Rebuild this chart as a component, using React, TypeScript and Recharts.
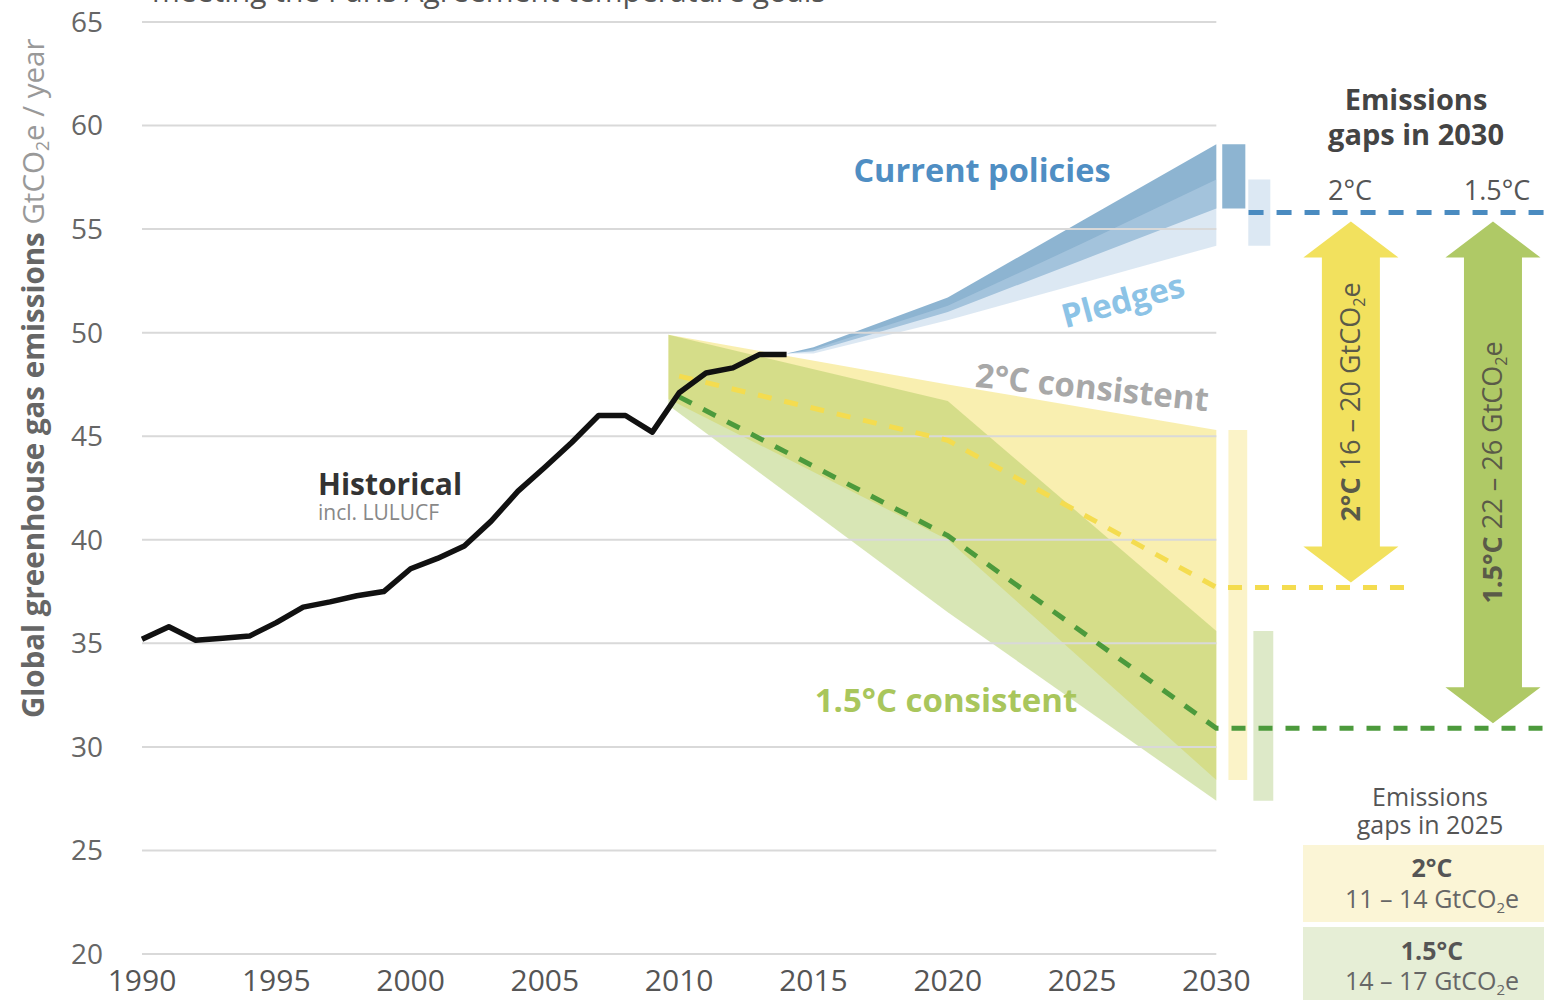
import React from "react";
import {
  Area,
  ComposedChart,
  Line,
  ReferenceArea,
  ReferenceLine,
  XAxis,
  YAxis
} from "recharts";

const FONT = '"Open Sans", "Noto Sans", sans-serif';

// historical emissions incl. LULUCF (GtCO2e / year)
const historicalYears = [
  1990, 1991, 1992, 1993, 1994, 1995, 1996, 1997, 1998, 1999, 2000, 2001, 2002,
  2003, 2004, 2005, 2006, 2007, 2008, 2009, 2010, 2011, 2012, 2013, 2014
];
const historicalValues = [
  35.2, 35.8, 35.15, 35.25, 35.35, 36.0, 36.75, 37.0, 37.3, 37.5, 38.6, 39.1,
  39.7, 40.9, 42.35, 43.5, 44.7, 46.0, 46.0, 45.2, 47.1, 48.05, 48.3, 48.95, 48.95
];

// projections from 2014
const projectionYears = [2014, 2015, 2020, 2025, 2030];
const currentPolicyLow = [49.0, 49.1, 51.0, 53.5, 56.0];
const currentPolicyHigh = [49.0, 49.3, 51.7, 55.4, 59.1];
const pledgeLow = [49.0, 49.0, 50.6, 52.4, 54.2];
const pledgeHigh = [49.0, 49.2, 51.3, 54.3, 57.4];
const pledgeMedian2030 = 55.8;

// temperature-consistent ranges
const bandYears = [2009.6, 2020, 2030];
const twoDegreeLow = [46.8, 40.0, 28.4];
const twoDegreeHigh = [49.9, 47.5, 45.3];
const onePointFiveLow = [46.5, 36.5, 27.4];
const onePointFiveHigh = [49.9, 46.7, 35.6];

const medianYears = [2010, 2020, 2030];
const twoDegreeMedian = [47.9, 44.8, 37.7];
const onePointFiveMedian = [46.9, 40.2, 30.9];

const xTicks = [1990, 1995, 2000, 2005, 2010, 2015, 2020, 2025, 2030];
const yTicks = [20, 25, 30, 35, 40, 45, 50, 55, 60, 65];

// layout (in year units along the x axis)
const X_MAX = 2042.2;
const GRID_END = 2030;
const BAR_CP: [number, number] = [2030.22, 2031.08];
const BAR_PLEDGE: [number, number] = [2031.19, 2032.01];
const BAR_2C: [number, number] = [2030.45, 2031.15];
const BAR_15C: [number, number] = [2031.38, 2032.12];
const ARROW_2C: [number, number] = [2033.24, 2036.78];
const ARROW_15C: [number, number] = [2038.53, 2042.07];
const EXT_2C_END = 2037.3;
const EXT_PLEDGE_START = 2031.2;

const last = (a: number[]) => a[a.length - 1];
const band = (years: number[], lo: number[], hi: number[]) =>
  years.map((year, i) => ({ year, range: [lo[i], hi[i]] }));
const series = (years: number[], values: number[]) =>
  years.map((year, i) => ({ year, value: values[i] }));

const historical = series(historicalYears, historicalValues);
const twoDegreeLine = [
  ...series(medianYears, twoDegreeMedian),
  { year: EXT_2C_END, value: last(twoDegreeMedian) }
];
const onePointFiveLine = [
  ...series(medianYears, onePointFiveMedian),
  { year: X_MAX, value: last(onePointFiveMedian) }
];
const pledgeLine = [
  { year: EXT_PLEDGE_START, value: pledgeMedian2030 },
  { year: X_MAX, value: pledgeMedian2030 }
];

function Co2e({ size }: { size: number }) {
  return (
    <>
      GtCO
      <tspan fontSize={size * 0.6} dy={size * 0.18}>
        2
      </tspan>
      <tspan dy={-size * 0.18}>e</tspan>
    </>
  );
}

function GapArrow(props: any) {
  const { x, y, width, height, color, bold, range } = props;
  const cx = x + width / 2;
  const top = y + 9;
  const bottom = y + height - 5;
  const half = width / 2;
  const shaft = width * 0.305;
  const head = 36;
  const pts = [
    [cx, top],
    [cx + half, top + head],
    [cx + shaft, top + head],
    [cx + shaft, bottom - head],
    [cx + half, bottom - head],
    [cx, bottom],
    [cx - half, bottom - head],
    [cx - shaft, bottom - head],
    [cx - shaft, top + head],
    [cx - half, top + head]
  ]
    .map((p) => p.join(","))
    .join(" ");
  const fs = 27;
  return (
    <g>
      <polygon points={pts} fill={color} />
      <text
        transform={`translate(${cx + 9}, ${(top + bottom) / 2}) rotate(-90)`}
        textAnchor="middle"
        fontFamily={FONT}
        fontSize={fs}
        fill="#5a5a48"
      >
        <tspan fontWeight="bold">{bold}</tspan>
        <tspan>{"  " + range + " "}</tspan>
        <Co2e size={fs} />
      </text>
    </g>
  );
}

function Annotations() {
  const t = { fontFamily: FONT };
  return (
    <svg
      width={1544}
      height={1000}
      style={{ position: "absolute", left: 0, top: 0, pointerEvents: "none" }}
    >
      <text x={152} y={2} fontSize={30} fill="#555" {...t}>
        meeting the Paris Agreement temperature goals
      </text>
      <text transform="rotate(-90)" x={-718} y={44} fontSize={29.5} fill="#666" {...t}>
        <tspan fontWeight="bold">Global greenhouse gas emissions</tspan>
        <tspan fill="#999">{"  "}</tspan>
        <tspan fill="#999">
          <Co2e size={29.5} /> / year
        </tspan>
      </text>

      <text x={318} y={495} fontSize={30} fontWeight="bold" fill="#333" {...t}>
        Historical
        <tspan x={318} dy={25} fontSize={21} fontWeight="normal" fill="#888">
          incl. LULUCF
        </tspan>
      </text>

      <text x={982} y={182} textAnchor="middle" fontSize={32.5} fontWeight="bold" fill="#4f8ec3" {...t}>
        Current policies
      </text>
      <text
        transform="translate(1126, 312) rotate(-15)"
        textAnchor="middle"
        fontSize={33}
        fontWeight="bold"
        fill="#8cc3e6"
        {...t}
      >
        Pledges
      </text>
      <text
        transform="translate(1091, 399) rotate(6)"
        textAnchor="middle"
        fontSize={33}
        fontWeight="bold"
        fill="#a8a8a8"
        {...t}
      >
        2°C consistent
      </text>
      <text x={946} y={712} textAnchor="middle" fontSize={33} fontWeight="bold" fill="#a9c65c" {...t}>
        1.5°C consistent
      </text>

      <text x={1416} y={110} textAnchor="middle" fontSize={29} fontWeight="bold" fill="#444" {...t}>
        Emissions
        <tspan x={1416} dy={35}>
          gaps in 2030
        </tspan>
      </text>
      <text x={1350} y={200} textAnchor="middle" fontSize={27} fill="#555" {...t}>
        2°C
      </text>
      <text x={1497} y={200} textAnchor="middle" fontSize={27} fill="#555" {...t}>
        1.5°C
      </text>

      <text x={1430} y={806} textAnchor="middle" fontSize={25} fill="#555" {...t}>
        Emissions
        <tspan x={1430} dy={28}>
          gaps in 2025
        </tspan>
      </text>
      <rect x={1303} y={845} width={241} height={77} fill="#fbf5d6" />
      <rect x={1303} y={927} width={241} height={73} fill="#e6eed6" />
      <text x={1432} y={877} textAnchor="middle" fontSize={25} fontWeight="bold" fill="#555" {...t}>
        2°C
      </text>
      <text x={1432} y={908} textAnchor="middle" fontSize={25} fill="#666" {...t}>
        11 – 14 <Co2e size={25} />
      </text>
      <text x={1432} y={960} textAnchor="middle" fontSize={25} fontWeight="bold" fill="#555" {...t}>
        1.5°C
      </text>
      <text x={1432} y={990} textAnchor="middle" fontSize={25} fill="#666" {...t}>
        14 – 17 <Co2e size={25} />
      </text>
    </svg>
  );
}

export default function App() {
  const tick = { fill: "#666", fontSize: 28, fontFamily: FONT };
  return (
    <div
      style={{
        position: "absolute",
        left: 0,
        top: 0,
        width: 1544,
        height: 1000,
        background: "#fff",
        fontFamily: FONT
      }}
    >
      <ComposedChart width={1544} height={1000} margin={{ top: 22, right: 0, bottom: 0, left: 0 }}>
        <XAxis
          type="number"
          dataKey="year"
          domain={[1990, X_MAX]}
          ticks={xTicks}
          interval={0}
          height={46}
          axisLine={false}
          tickLine={false}
          tickSize={0}
          tickMargin={16}
          tick={{ ...tick, fill: "#555", fontSize: 30 }}
        />
        <YAxis
          type="number"
          domain={[20, 65]}
          ticks={yTicks}
          interval={0}
          width={142}
          axisLine={false}
          tickLine={false}
          tickSize={0}
          tickMargin={39}
          tick={tick}
        />
        {yTicks.map((v) => (
          <ReferenceLine
            key={v}
            segment={[
              { x: 1990, y: v },
              { x: GRID_END, y: v }
            ]}
            stroke="#d9d9d9"
            strokeWidth={2}
          />
        ))}

        <Area
          data={band(bandYears, twoDegreeLow, twoDegreeHigh)}
          dataKey="range"
          type="linear"
          stroke="none"
          fill="#f5e47c"
          fillOpacity={0.6}
          isAnimationActive={false}
        />
        <Area
          data={band(bandYears, onePointFiveLow, onePointFiveHigh)}
          dataKey="range"
          type="linear"
          stroke="none"
          fill="#a9c75a"
          fillOpacity={0.45}
          isAnimationActive={false}
        />
        <Area
          data={band(projectionYears, currentPolicyLow, currentPolicyHigh)}
          dataKey="range"
          type="linear"
          stroke="none"
          fill="#79a7c9"
          fillOpacity={0.85}
          isAnimationActive={false}
        />
        <Area
          data={band(projectionYears, pledgeLow, pledgeHigh)}
          dataKey="range"
          type="linear"
          stroke="none"
          fill="#b9d2e8"
          fillOpacity={0.5}
          isAnimationActive={false}
        />

        <ReferenceArea
          x1={BAR_CP[0]}
          x2={BAR_CP[1]}
          y1={last(currentPolicyLow)}
          y2={last(currentPolicyHigh)}
          fill="#8db4d1"
          fillOpacity={1}
          stroke="none"
        />
        <ReferenceArea
          x1={BAR_PLEDGE[0]}
          x2={BAR_PLEDGE[1]}
          y1={last(pledgeLow)}
          y2={last(pledgeHigh)}
          fill="#dce8f3"
          fillOpacity={1}
          stroke="none"
        />
        <ReferenceArea
          x1={BAR_2C[0]}
          x2={BAR_2C[1]}
          y1={last(twoDegreeLow)}
          y2={last(twoDegreeHigh)}
          fill="#fbf3c8"
          fillOpacity={1}
          stroke="none"
        />
        <ReferenceArea
          x1={BAR_15C[0]}
          x2={BAR_15C[1]}
          y1={last(onePointFiveLow)}
          y2={last(onePointFiveHigh)}
          fill="#dde9c8"
          fillOpacity={1}
          stroke="none"
        />
        <ReferenceArea
          x1={ARROW_2C[0]}
          x2={ARROW_2C[1]}
          y1={last(twoDegreeMedian)}
          y2={pledgeMedian2030}
          ifOverflow="visible"
          shape={(p: any) => <GapArrow {...p} color="#f2e15e" bold="2°C" range="16 – 20" />}
        />
        <ReferenceArea
          x1={ARROW_15C[0]}
          x2={ARROW_15C[1]}
          y1={last(onePointFiveMedian)}
          y2={pledgeMedian2030}
          ifOverflow="visible"
          shape={(p: any) => <GapArrow {...p} color="#afc966" bold="1.5°C" range="22 – 26" />}
        />

        <Line
          data={pledgeLine}
          dataKey="value"
          type="linear"
          stroke="#4a8bc0"
          strokeWidth={5}
          strokeDasharray="15 13"
          dot={false}
          activeDot={false}
          isAnimationActive={false}
        />
        <Line
          data={twoDegreeLine}
          dataKey="value"
          type="linear"
          stroke="#f4dc4f"
          strokeWidth={5}
          strokeDasharray="14 13"
          dot={false}
          activeDot={false}
          isAnimationActive={false}
        />
        <Line
          data={onePointFiveLine}
          dataKey="value"
          type="linear"
          stroke="#4c9a3c"
          strokeWidth={5}
          strokeDasharray="14 13"
          dot={false}
          activeDot={false}
          isAnimationActive={false}
        />
        <Line
          data={historical}
          dataKey="value"
          type="linear"
          stroke="#111"
          strokeWidth={5.5}
          strokeLinejoin="round"
          dot={false}
          activeDot={false}
          isAnimationActive={false}
        />
      </ComposedChart>
      <Annotations />
    </div>
  );
}
